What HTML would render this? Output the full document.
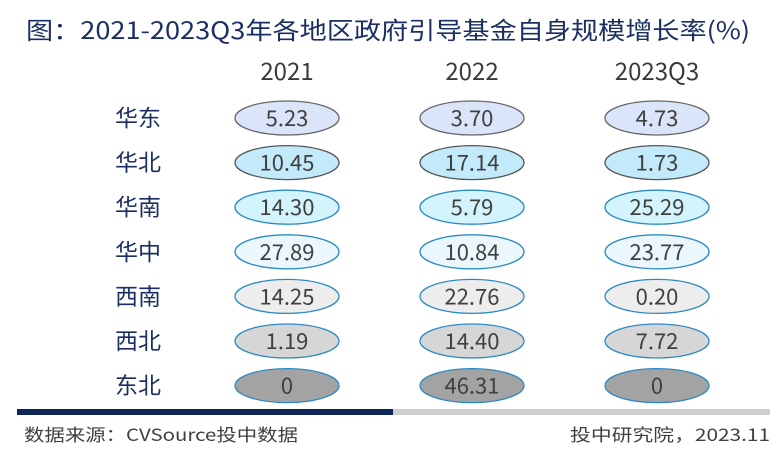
<!DOCTYPE html>
<html><head><meta charset="utf-8">
<style>
body{margin:0;background:#fff;}
svg{display:block;font-family:"Liberation Sans","Noto Sans CJK SC",sans-serif;}
</style></head>
<body>
<svg id="chart" width="782" height="452" viewBox="0 0 782 452">
<rect width="782" height="452" fill="#fff"/>
<text x="26" y="39" font-size="24" fill="#1b2f63" textLength="724" lengthAdjust="spacingAndGlyphs" font-family="Noto Sans CJK SC, sans-serif">图：2021-2023Q3年各地区政府引导基金自身规模增长率(%)</text>
<g id="cells"></g>
<rect x="17" y="409" width="376" height="6" fill="#0d2557"/>
<rect x="393" y="409" width="377" height="6" fill="#cfcfcf"/>
<text x="24" y="441" font-size="17" fill="#404040" textLength="274" lengthAdjust="spacingAndGlyphs" font-family="Noto Sans CJK SC, sans-serif">数据来源：CVSource投中数据</text>
<text x="570" y="441" font-size="17" fill="#404040" textLength="200" lengthAdjust="spacingAndGlyphs" font-family="Noto Sans CJK SC, sans-serif">投中研究院，2023.11</text>
</svg>
<script>
const columns = ["2021","2022","2023Q3"];
const regions = ["华东","华北","华南","华中","西南","西北","东北"];
const v2021 = ["5.23","10.45","14.30","27.89","14.25","1.19","0"];
const v2022 = ["3.70","17.14","5.79","10.84","22.76","14.40","46.31"];
const v2023 = ["4.73","1.73","25.29","23.77","0.20","7.72","0"];
const rowFill = ["#dbe5fa","#c3eafb","#d3f3fd","#eaf8fd","#ededed","#d6d6d6","#a3a3a3"];
const rowStroke = ["#666","#555","#2a8ac4","#2a8ac4","#2a8ac4","#2a8ac4","#2a8ac4"];
const series = [v2021, v2022, v2023];
const NS = "http://www.w3.org/2000/svg";
const g = document.getElementById("cells");
const colX = i => 287 + i*185;
const rowY = j => 118 + j*44.6;
columns.forEach((c,i)=>{
  const t = document.createElementNS(NS,"text");
  t.setAttribute("x",colX(i)); t.setAttribute("y",80);
  t.setAttribute("text-anchor","middle"); t.setAttribute("font-size","24"); t.setAttribute("fill","#3a3a3a");
  t.setAttribute("font-family","Noto Sans CJK SC, sans-serif");
  
  
  t.textContent = c; g.appendChild(t);
});
regions.forEach((r,j)=>{
  const t = document.createElementNS(NS,"text");
  t.setAttribute("x",138); t.setAttribute("y",rowY(j)+8);
  t.setAttribute("text-anchor","middle"); t.setAttribute("font-size","23"); t.setAttribute("fill","#1b2f63");
  t.setAttribute("font-family","Noto Sans CJK SC, sans-serif");
  
  
  t.textContent = r; g.appendChild(t);
  series.forEach((s,i)=>{
    const e = document.createElementNS(NS,"ellipse");
    e.setAttribute("cx",colX(i)); e.setAttribute("cy",rowY(j));
    e.setAttribute("rx",52); e.setAttribute("ry",17);
    e.setAttribute("fill",rowFill[j]); e.setAttribute("stroke",rowStroke[j]); e.setAttribute("stroke-width","1.3");
    
    
    g.appendChild(e);
    const v = document.createElementNS(NS,"text");
    v.setAttribute("x",colX(i)); v.setAttribute("y",rowY(j)+8);
    v.setAttribute("text-anchor","middle"); v.setAttribute("font-size","22"); v.setAttribute("fill","#404040");
    v.setAttribute("font-family","Noto Sans CJK SC, sans-serif");
    
    
    v.textContent = s[j]; g.appendChild(v);
  });
});
</script>
</body></html>
